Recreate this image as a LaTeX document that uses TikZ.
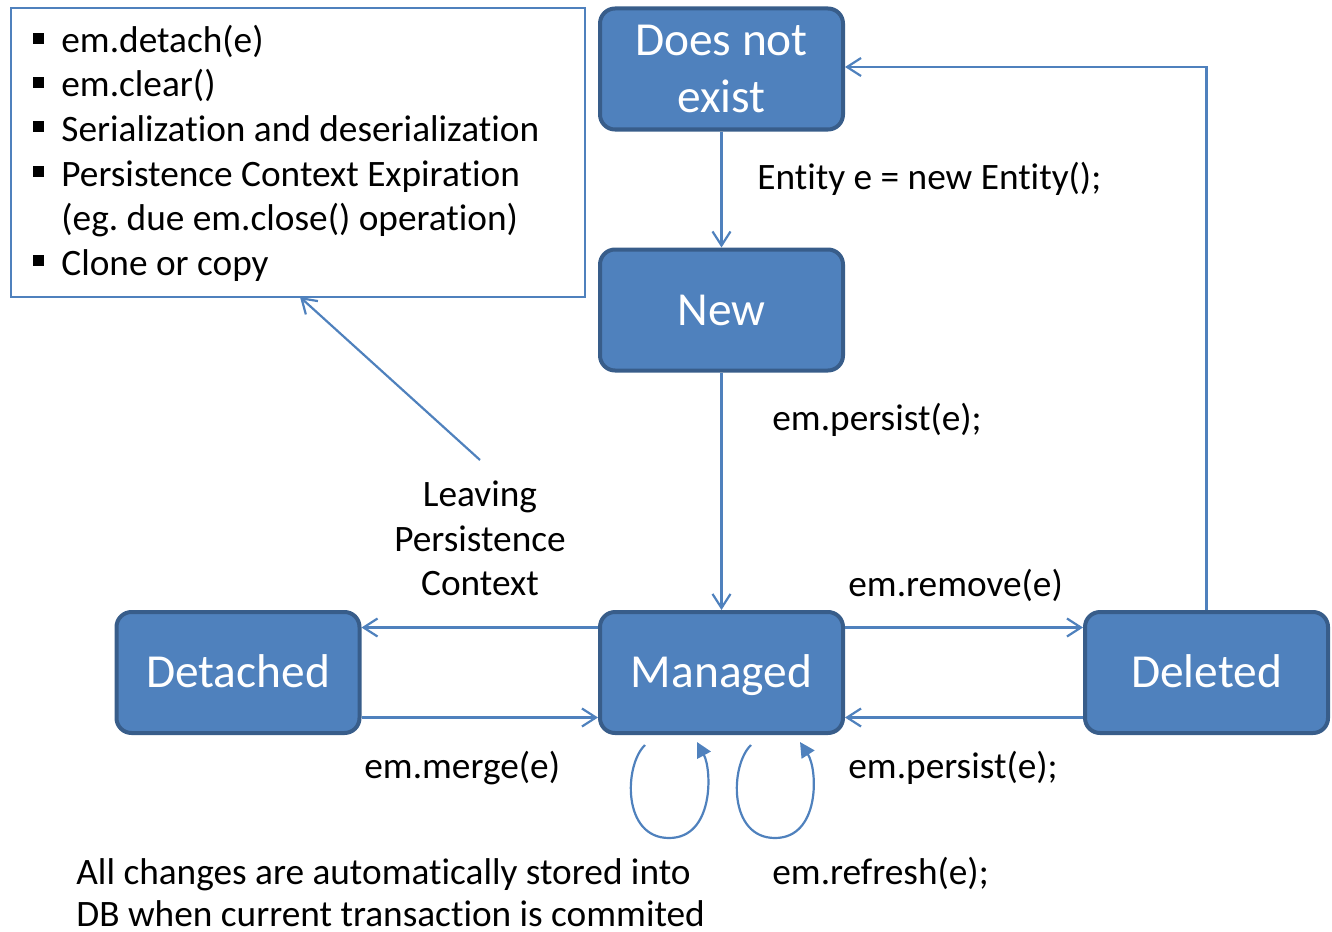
\documentclass[tikz,border=0pt]{standalone}
\usepackage{fontspec}
\setmainfont{Carlito}[Ligatures=NoCommon]
\usetikzlibrary{arrows.meta,calc}
\definecolor{fillblue}{HTML}{4F81BD}
\definecolor{edgeblue}{HTML}{385D8A}
\frenchspacing
\begin{document}
\begin{tikzpicture}[x=0.5pt,y=-0.5pt,
 state/.style={draw=edgeblue, line width=2pt, fill=fillblue, rounded corners=7.5pt,
   minimum width=121.5pt, minimum height=60.5pt, text=white,
   font=\fontsize{23.7}{28.5}\selectfont, inner sep=0pt},
 onel/.style={text height=15.1pt, text depth=0pt},
 conn/.style={draw=fillblue, line width=1.1pt, -{Straight Barb[length=7pt,width=9pt]}},
 loopc/.style={draw=fillblue, line width=1.1pt, -{Triangle[length=7.5pt,width=7.5pt]}},
 lbl/.style={font=\fontsize{18.65}{22.5}\selectfont, inner sep=0pt, anchor=base west},
 clbl/.style={font=\fontsize{18.65}{22.5}\selectfont, inner sep=0pt, anchor=base},
]
\useasboundingbox (0,0) rectangle (1332,931);

% states
\node[state, align=center] (dne) at (721.5,69) {Does not\\exist};
\node[state, onel] (new) at (721.5,310) {New};
\node[state, onel] (man) at (721.5,672.5) {Managed};
\node[state, onel] (det) at (238,672.5) {Detached};
\node[state, onel] (del) at (1206.5,672.5) {Deleted};

% text box
\node[draw=fillblue, line width=0.8pt, minimum width=287pt, minimum height=144.5pt, inner sep=0pt] (tb) at (298,152.5) {};
\newcommand{\bul}{\llap{\rule[4.5pt]{5.5pt}{5.5pt}\hspace{8.5pt}}}
\node[lbl] (b1) at (61,53) {\bul em.detach(e)};
\node[lbl] (b2) at (61,97) {\bul em.clear()};
\node[lbl] (b3) at (61,141) {\bul Serialization and deserialization};
\node[lbl] (b4) at (61,186) {\bul Persistence Context Expiration};
\node[lbl] (b5) at (61,230) {(eg. due em.close() operation)};
\node[lbl] (b6) at (61,275) {\bul Clone or copy};

% connectors
\draw[conn] (dne) -- (new);
\draw[conn] (new) -- (man);
\draw[conn] ([yshift=22.5pt]man.west) -- ([yshift=22.5pt]det.east);
\draw[conn] ([yshift=-22.5pt]det.east) -- ([yshift=-22.5pt]man.west);
\draw[conn] ([yshift=22.5pt]man.east) -- ([yshift=22.5pt]del.west);
\draw[conn] ([yshift=-22.5pt]del.west) -- ([yshift=-22.5pt]man.east);
\draw[conn] (del.north) |- ([yshift=1pt]dne.east);

\coordinate (lvs) at (480,460);
\coordinate (lve) at (300,297);
\draw[conn] (lvs) -- (lve);

% self loops
\coordinate (l1s) at (645,745);
\coordinate (l1e) at (697,742);
\coordinate (l2s) at (751,745);
\coordinate (l2e) at (800,742);
\draw[loopc] (l1s) .. controls (624,765) and (622,838) .. (669,838) .. controls (714,838) and (712,770) .. (l1e);
\draw[loopc] (l2s) .. controls (730,765) and (728,838) .. (775,838) .. controls (820,838) and (818,770) .. (l2e);

% labels
\node[lbl] (t1) at (757,189) {Entity e = new Entity();};
\node[lbl] (t2) at (772,430) {em.persist(e);};
\node[clbl] (t3a) at (480,506) {Leaving};
\node[clbl] (t3b) at (480,551) {Persistence};
\node[clbl] (t3c) at (480,595) {Context};
\node[lbl] (t4) at (848,596) {em.remove(e)};
\node[lbl] (t5) at (364,778) {em.merge(e)};
\node[lbl] (t6) at (848,778) {em.persist(e);};
\node[lbl] (t7) at (76,884) {All changes are automatically stored into};
\node[lbl] (t8) at (76,926) {DB when current transaction is commited};
\node[lbl] (t9) at (772,884) {em.refresh(e);};
\end{tikzpicture}
\end{document}
